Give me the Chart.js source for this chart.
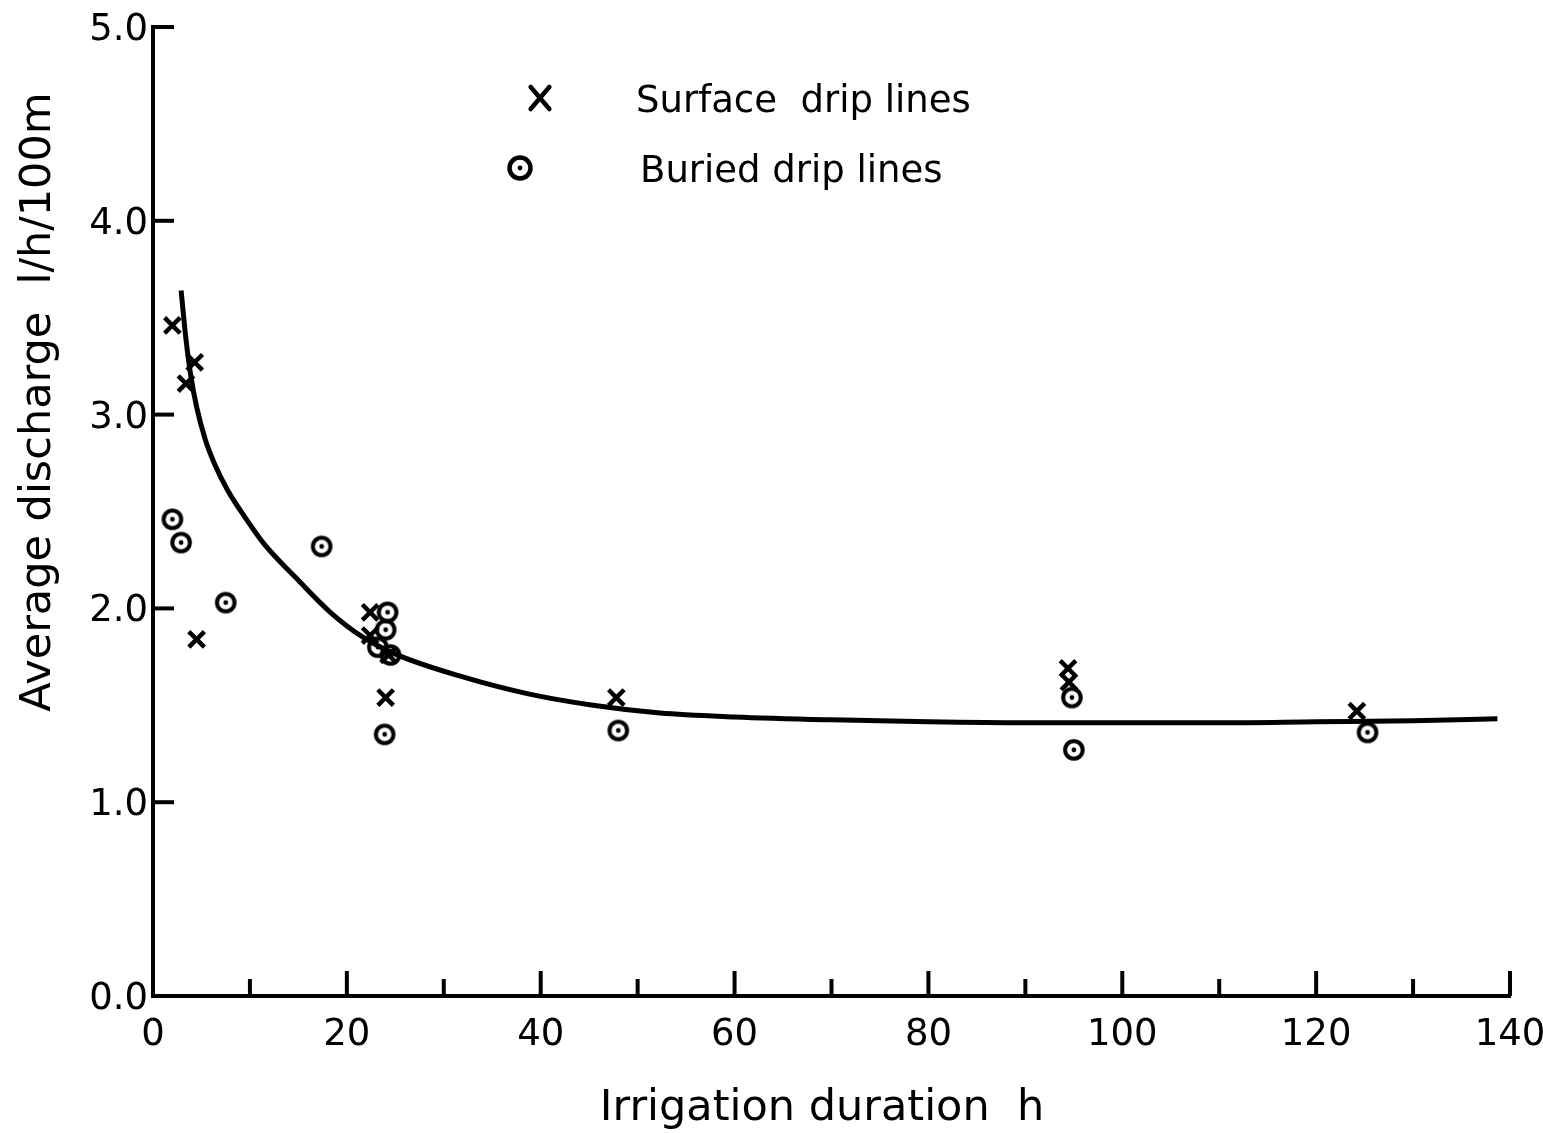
<!DOCTYPE html>
<html>
<head>
<meta charset="utf-8">
<script src="https://cdn.jsdelivr.net/npm/chart.js@4.4.1/dist/chart.umd.min.js"></script>
<style>
  html, body { margin: 0; padding: 0; background: #fff; }
  canvas { display: block; }
</style>
</head>
<body>
<canvas id="dischargeChart" width="1543" height="1133"></canvas>
<script>
// surface drip lines (X markers)
const surfaceHours = [2.0, 3.4, 4.3, 4.5, 22.4, 22.4, 24.3, 24.0, 47.8, 94.4, 94.5, 124.2]
const surfaceDischarge = [3.46, 3.16, 3.27, 1.84, 1.98, 1.86, 1.76, 1.54, 1.54, 1.69, 1.62, 1.47]

// buried drip lines (circle markers)
const buriedHours = [2.0, 2.9, 7.5, 17.4, 24.2, 24.0, 23.2, 24.5, 23.9, 48.0, 94.8, 95.0, 125.3]
const buriedDischarge = [2.46, 2.34, 2.03, 2.32, 1.98, 1.89, 1.80, 1.76, 1.35, 1.37, 1.54, 1.27, 1.36]

// fitted curve
const curveHours = [2.9, 3.4, 3.9, 4.5, 5.4, 6.4, 7.7, 9.5, 11.5, 14.9, 18.3, 21.7, 25.2, 31.7, 38.6, 45.4, 52.3, 60, 70, 80, 90, 100, 110, 120, 130, 138.7]
const curveDischarge = [3.64, 3.39, 3.20, 3.04, 2.87, 2.74, 2.61, 2.47, 2.33, 2.15, 1.98, 1.85, 1.76, 1.65, 1.56, 1.50, 1.46, 1.44, 1.425, 1.415, 1.41, 1.41, 1.41, 1.415, 1.42, 1.43]

const xTickValues = [0, 10, 20, 30, 40, 50, 60, 70, 80, 90, 100, 110, 120, 130, 140]
const xTickLabels = ["0", "20", "40", "60", "80", "100", "120", "140"]
const yTickLabels = ["0.0", "1.0", "2.0", "3.0", "4.0", "5.0"]

const FONT = "'DejaVu Sans', 'Liberation Sans', sans-serif"

const toPoints = (xs, ys) => xs.map((x, i) => ({ x: x, y: ys[i] }))

// circle with a dot in the middle
function makeRingDot(r, lw) {
  const c = document.createElement("canvas")
  const s = Math.ceil(r * 2 + lw + 4)
  c.width = s
  c.height = s
  const g = c.getContext("2d")
  g.strokeStyle = "#000"
  g.fillStyle = "#000"
  g.lineWidth = lw
  g.beginPath()
  g.arc(s / 2, s / 2, r, 0, Math.PI * 2)
  g.stroke()
  g.beginPath()
  g.arc(s / 2, s / 2, 2.4, 0, Math.PI * 2)
  g.fill()
  return c
}

const ring = makeRingDot(8.8, 4)
const legendRing = makeRingDot(10.5, 4.5)

function drawX(ctx, cx, cy, h) {
  ctx.save()
  ctx.strokeStyle = "#000"
  ctx.lineWidth = 4.5
  ctx.lineCap = "round"
  ctx.beginPath()
  ctx.moveTo(cx - h * 0.85, cy - h)
  ctx.lineTo(cx + h * 0.85, cy + h)
  ctx.moveTo(cx + h * 0.85, cy - h)
  ctx.lineTo(cx - h * 0.85, cy + h)
  ctx.stroke()
  ctx.restore()
}

const axesDecor = {
  id: "axesDecor",
  afterDraw(chart) {
    const { ctx, scales } = chart
    const x = scales.x
    const y = scales.y
    const x0 = x.getPixelForValue(0)
    const y0 = y.getPixelForValue(0)

    ctx.save()
    ctx.strokeStyle = "#000"
    ctx.fillStyle = "#000"
    ctx.lineWidth = 4
    ctx.lineCap = "butt"

    // y ticks pointing inwards + labels
    ctx.font = "37px " + FONT
    ctx.textAlign = "right"
    ctx.textBaseline = "alphabetic"
    yTickLabels.forEach((lab, i) => {
      const py = y.getPixelForValue(i)
      if (i > 0) {
        ctx.beginPath()
        ctx.moveTo(x0, py)
        ctx.lineTo(x0 + 21, py)
        ctx.stroke()
      }
      ctx.fillText(lab, x0 - 5, py + 13)
    })

    // x ticks pointing upward
    xTickValues.forEach(v => {
      if (v === 0) return
      const px = x.getPixelForValue(v)
      const len = v % 20 === 0 ? 25 : 17
      ctx.beginPath()
      ctx.moveTo(px, y0)
      ctx.lineTo(px, y0 - len)
      ctx.stroke()
    })

    ctx.textAlign = "center"
    xTickLabels.forEach(lab => {
      const px = x.getPixelForValue(Number(lab))
      ctx.fillText(lab, px, y0 + 49)
    })

    // axis titles
    ctx.font = "43px " + FONT
    ctx.fillText("Irrigation duration  h", 822, 1120)

    ctx.save()
    ctx.translate(50, 402)
    ctx.rotate(-Math.PI / 2)
    ctx.fillText("Average discharge  l/h/100m", 0, 0)
    ctx.restore()

    // legend
    ctx.font = "37px " + FONT
    ctx.textAlign = "left"
    drawX(ctx, 540, 98, 11)
    ctx.fillText("Surface  drip lines", 636, 112)
    ctx.drawImage(legendRing, 520 - legendRing.width / 2, 168 - legendRing.height / 2)
    ctx.fillText("Buried drip lines", 640, 182)

    ctx.restore()
  }
}

new Chart(document.getElementById("dischargeChart"), {
  type: "scatter",
  data: {
    datasets: [
      {
        label: "Fitted curve",
        type: "line",
        data: toPoints(curveHours, curveDischarge),
        borderColor: "#000",
        borderWidth: 5,
        pointRadius: 0,
        cubicInterpolationMode: "monotone",
        fill: false,
      },
      {
        label: "Surface drip lines",
        data: toPoints(surfaceHours, surfaceDischarge),
        pointStyle: "crossRot",
        pointRadius: 11,
        borderColor: "#000",
        borderWidth: 4.5,
      },
      {
        label: "Buried drip lines",
        data: toPoints(buriedHours, buriedDischarge),
        pointStyle: ring,
        borderColor: "#000",
        backgroundColor: "#000",
      },
    ],
  },
  options: {
    responsive: false,
    animation: false,
    layout: {
      padding: { left: 153, right: 33, top: 27, bottom: 137 },
    },
    plugins: {
      legend: { display: false },
      tooltip: { enabled: false },
    },
    scales: {
      x: {
        type: "linear",
        min: 0,
        max: 140,
        ticks: { display: false, stepSize: 10 },
        grid: { display: false, drawTicks: false },
        border: { display: true, color: "#000", width: 4 },
      },
      y: {
        type: "linear",
        min: 0,
        max: 5,
        ticks: { display: false, stepSize: 1 },
        grid: { display: false, drawTicks: false },
        border: { display: true, color: "#000", width: 4 },
      },
    },
  },
  plugins: [axesDecor],
});
</script>
</body>
</html>
